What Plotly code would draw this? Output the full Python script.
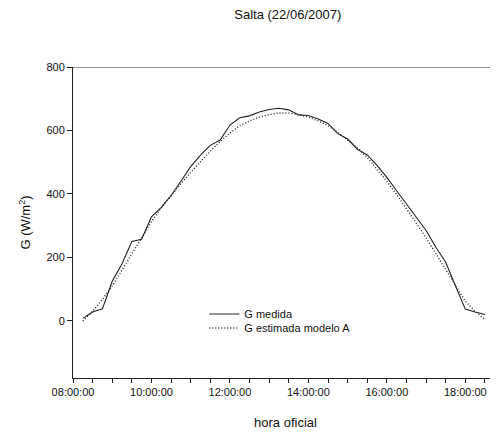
import plotly.graph_objects as go

# horas (cada 15 min) y radiación global
horas = ["08:15", "08:30", "08:45", "09:00", "09:15", "09:30", "09:45",
         "10:00", "10:15", "10:30", "10:45", "11:00", "11:15", "11:30", "11:45",
         "12:00", "12:15", "12:30", "12:45", "13:00", "13:15", "13:30", "13:45",
         "14:00", "14:15", "14:30", "14:45", "15:00", "15:15", "15:30", "15:45",
         "16:00", "16:15", "16:30", "16:45", "17:00", "17:15", "17:30", "17:45",
         "18:00", "18:15", "18:30"]
g_medida = [8, 28, 38, 125, 180, 250, 257,
            328, 358, 395, 440, 486, 522, 553, 570,
            617, 640, 646, 658, 666, 670, 665, 649,
            647, 636, 622, 590, 573, 541, 523, 490,
            452, 410, 368, 325, 285, 232, 185, 110,
            37, 28, 20]
g_modelo_a = [0, 30, 68, 110, 160, 212, 262,
              313, 356, 395, 432, 468, 502, 535, 565,
              592, 615, 630, 642, 650, 655, 655, 650,
              642, 630, 615, 594, 570, 545, 515, 478,
              440, 398, 355, 308, 262, 210, 162, 112,
              62, 30, 5]
y_ticks = [0, 200, 400, 600, 800]

fecha = "2007-06-22 "
x = [fecha + h + ":00" for h in horas]

fig = go.Figure()
fig.add_trace(go.Scatter(x=x, y=g_medida, mode="lines", name="G medida",
                         line=dict(color="#222222", width=1.1), legend="legend"))
fig.add_trace(go.Scatter(x=x, y=g_modelo_a, mode="lines", name="G estimada modelo A",
                         line=dict(color="#222222", width=1.4, dash="1px,2px"), legend="legend2"))

fig.add_shape(type="line", xref="paper", yref="y", x0=0, x1=1, y0=800, y1=800,
              line=dict(color="#222222", width=1))

fig.update_xaxes(
    range=[fecha + "08:00:00", fecha + "18:50:00"],
    tickformat="%H:%M:%S", dtick=2 * 3600 * 1000, tick0=fecha + "08:00:00",
    ticks="outside", ticklen=4, tickcolor="#222222",
    minor=dict(dtick=30 * 60 * 1000, ticks="outside", ticklen=4, tickcolor="#222222"),
    showline=True, linecolor="#222222", linewidth=1, showgrid=False, zeroline=False,
    title=dict(text="hora oficial", font=dict(size=13), standoff=20),
    tickfont=dict(size=11),
)
fig.update_yaxes(
    range=[-180, 800], tickvals=y_ticks,
    ticks="outside", ticklen=5, tickcolor="#222222",
    showline=True, linecolor="#222222", linewidth=1, showgrid=False, zeroline=False,
    title=dict(text="G (W/m<sup>2</sup>)", font=dict(size=13), standoff=12),
    tickfont=dict(size=11),
)

leyenda = dict(xanchor="left", yanchor="middle", bgcolor="rgba(0,0,0,0)",
               font=dict(size=11), itemwidth=30)
fig.update_layout(
    width=490, height=426,
    margin=dict(l=65, r=0, t=59, b=56),
    plot_bgcolor="white", paper_bgcolor="white",
    font=dict(family="Liberation Sans, Arial, sans-serif", color="#111111"),
    title=dict(text="Salta (22/06/2007)", x=0.571, xanchor="center", y=0.984, yanchor="middle",
               font=dict(size=13)),
    legend=dict(x=0.309, y=0.206, **leyenda),
    legend2=dict(x=0.309, y=0.161, **leyenda),
    showlegend=True,
)

fig.write_html("out.html")
